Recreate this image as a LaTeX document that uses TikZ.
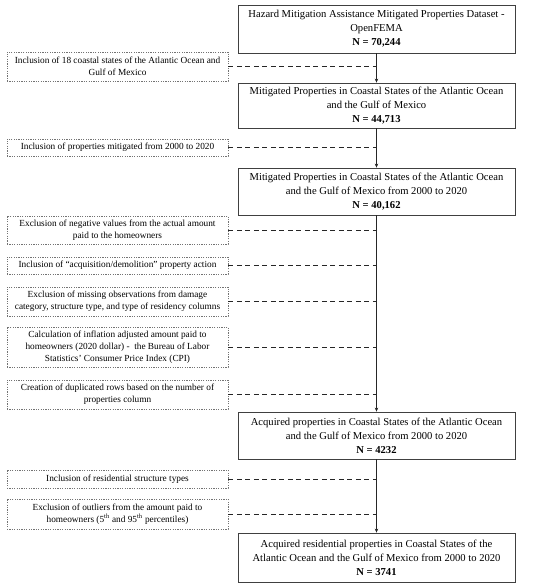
\documentclass[tikz,border=0pt]{standalone}
\usepackage{fontspec}
\setmainfont{Liberation Serif}
\usetikzlibrary{arrows.meta}
\begin{document}
\begin{tikzpicture}[x=1pt,y=-1pt,
  mainbox/.style={draw=black!75, line width=0.8pt, minimum width=277pt, align=center, font=\fontsize{10.6}{14}\selectfont, inner sep=0pt},
  sidebox/.style={draw=black!55, dash pattern=on 1.2pt off 1.2pt, line width=0.6pt, minimum width=221pt, align=center, font=\fontsize{9.3}{12}\selectfont, inner sep=0pt},
  flow/.style={draw=black!85, line width=1pt, -{Stealth[length=4pt,width=3.5pt]}},
  link/.style={draw=black!85, line width=0.9pt, dash pattern=on 5pt off 3.5pt}]
\useasboundingbox (0,0) rectangle (550,585);
\fill[white] (0,0) rectangle (550,585);
% main boxes
\node[mainbox, minimum height=48pt] (m1) at (376.5,29) {Hazard Mitigation Assistance Mitigated Properties Dataset -\\OpenFEMA\\\textbf{N = 70,244}};
\node[mainbox, minimum height=45pt] (m2) at (376.5,105.5) {Mitigated Properties in Coastal States of the Atlantic Ocean\\and the Gulf of Mexico\\\textbf{N = 44,713}};
\node[mainbox, minimum height=47pt] (m3) at (376.5,191.5) {Mitigated Properties in Coastal States of the Atlantic Ocean\\and the Gulf of Mexico from 2000 to 2020\\\textbf{N = 40,162}};
\node[mainbox, minimum height=47pt] (m4) at (376.5,435.5) {Acquired properties in Coastal States of the Atlantic Ocean\\and the Gulf of Mexico from 2000 to 2020\\\textbf{N = 4232}};
\node[mainbox, minimum height=49pt] (m5) at (376.5,557.5) {Acquired residential properties in Coastal States of the\\Atlantic Ocean and the Gulf of Mexico from 2000 to 2020\\\textbf{N = 3741}};
% side boxes
\node[sidebox, minimum height=29pt] (s1) at (117.5,66.5) {Inclusion of 18 coastal states of the Atlantic Ocean and\\Gulf of Mexico};
\node[sidebox, minimum height=17pt] (s2) at (117.5,147.5) {Inclusion of properties mitigated from 2000 to 2020};
\node[sidebox, minimum height=28pt] (s3) at (117.5,230) {Exclusion of negative values from the actual amount\\paid to the homeowners};
\node[sidebox, minimum height=17pt] (s4) at (117.5,265.5) {Inclusion of “acquisition/demolition” property action};
\node[sidebox, minimum height=29pt] (s5) at (117.5,301.5) {Exclusion of missing observations from damage\\category, structure type, and type of residency columns};
\node[sidebox, minimum height=40pt] (s6) at (117.5,347) {Calculation of inflation adjusted amount paid to\\homeowners (2020 dollar) -\ \ the Bureau of Labor\\Statistics’ Consumer Price Index (CPI)};
\node[sidebox, minimum height=29pt] (s7) at (117.5,394.5) {Creation of duplicated rows based on the number of\\properties column};
\node[sidebox, minimum height=18pt] (s8) at (117.5,479) {Inclusion of residential structure types};
\node[sidebox, minimum height=30pt] (s9) at (117.5,514) {Exclusion of outliers from the amount paid to\\homeowners (5\textsuperscript{th} and 95\textsuperscript{th} percentiles)};
% flow arrows
\draw[flow] (m1.south) -- (m2.north);
\draw[flow] (m2.south) -- (m3.north);
\draw[flow] (m3.south) -- (m4.north);
\draw[flow] (m4.south) -- (m5.north);
% dashed links
\foreach \s in {s1,s2,s3,s4,s5,s6,s7,s8,s9}{
  \draw[link] (\s.east) -- (\s.east -| m1.south);
}
\end{tikzpicture}
\end{document}
